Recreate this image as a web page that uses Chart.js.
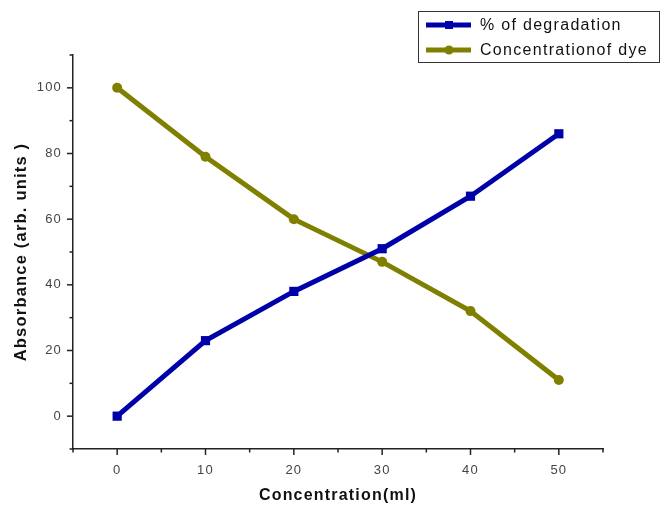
<!DOCTYPE html>
<html><head><meta charset="utf-8">
<script src="https://cdn.jsdelivr.net/npm/chart.js@4.4.0/dist/chart.umd.min.js"></script>
<style>html,body{margin:0;padding:0;background:#fff}#wrap{width:663px;height:509px;position:relative}</style>
</head><body><div id="wrap"><canvas id="c" width="663" height="509"></canvas></div>
<script>
const categories = [0, 10, 20, 30, 40, 50];
const degradation = [0, 23, 38, 51, 67, 86];
const dyeConc = [100, 79, 60, 47, 32, 11];
const xTickValues = [-5, 0, 5, 10, 15, 20, 25, 30, 35, 40, 45, 50, 55];
const xTickLabels = [0, 10, 20, 30, 40, 50];
const yTickValues = [-10, 0, 10, 20, 30, 40, 50, 60, 70, 80, 90, 100, 110];
const yTickLabels = [0, 20, 40, 60, 80, 100];
const seriesNames = ['% of degradation', 'Concentrationof dye'];

const BLUE = '#0000a8', OLIVE = '#808000';
const FONT = '"Liberation Sans", Arial, sans-serif';

const spacingPlugin = {
  id: 'spacing',
  beforeInit(chart) { chart.ctx.letterSpacing = '1.2px'; },
  beforeLayout(chart) { chart.ctx.letterSpacing = '1.2px'; },
  beforeDraw(chart) { chart.ctx.letterSpacing = '1.2px'; }
};

const tickPlugin = {
  id: 'ticksDraw',
  afterDraw(chart) {
    const ctx = chart.ctx, xs = chart.scales.x, ys = chart.scales.y, a = chart.chartArea;
    ctx.save();
    ctx.strokeStyle = '#222'; ctx.lineWidth = 1.5;
    xTickValues.forEach(v => {
      const px = xs.getPixelForValue(v);
      const len = xTickLabels.includes(v) ? 6 : 3.5;
      ctx.beginPath(); ctx.moveTo(px, a.bottom); ctx.lineTo(px, a.bottom + len); ctx.stroke();
    });
    yTickValues.forEach(v => {
      const py = ys.getPixelForValue(v);
      const len = yTickLabels.includes(v) ? 6 : 3.5;
      ctx.beginPath(); ctx.moveTo(a.left, py); ctx.lineTo(a.left - len, py); ctx.stroke();
    });
    // legend
    const bx = 418.5, by = 11.5, bw = 241, bh = 51;
    ctx.strokeStyle = '#333'; ctx.lineWidth = 1;
    ctx.fillStyle = '#fff';
    ctx.fillRect(bx, by, bw, bh);
    ctx.strokeRect(bx, by, bw, bh);
    const rows = [[seriesNames[0], BLUE, 'rect', 25], [seriesNames[1], OLIVE, 'circle', 50]];
    ctx.font = '16px ' + FONT;
    ctx.letterSpacing = '1.3px';
    ctx.textBaseline = 'middle';
    rows.forEach(([t, c, s, y]) => {
      ctx.strokeStyle = c; ctx.lineWidth = 5;
      ctx.beginPath(); ctx.moveTo(426, y); ctx.lineTo(471, y); ctx.stroke();
      ctx.fillStyle = c;
      if (s === 'rect') ctx.fillRect(445, y - 4, 8, 8);
      else { ctx.beginPath(); ctx.arc(449, y, 4.5, 0, Math.PI * 2); ctx.fill(); }
      ctx.fillStyle = '#111';
      ctx.fillText(t, 480, y + 1);
    });
    ctx.restore();
  }
};

new Chart(document.getElementById('c'), {
  type: 'line',
  data: {
    datasets: [
      { label: seriesNames[0], data: categories.map((x, i) => ({ x, y: degradation[i] })),
        borderColor: BLUE, backgroundColor: BLUE, borderWidth: 5, pointStyle: 'rect',
        pointRadius: 6.5, pointBorderWidth: 0, tension: 0 },
      { label: seriesNames[1], data: categories.map((x, i) => ({ x, y: dyeConc[i] })),
        borderColor: OLIVE, backgroundColor: OLIVE, borderWidth: 5, pointStyle: 'circle',
        pointRadius: 5, pointBorderWidth: 0, tension: 0 }
    ]
  },
  options: {
    responsive: false, animation: false,
    layout: { padding: { top: 55, right: 60, left: 0, bottom: 0 } },
    plugins: { legend: { display: false }, tooltip: { enabled: false } },
    scales: {
      x: {
        type: 'linear', min: -5, max: 55,
        afterBuildTicks: s => { s.ticks = xTickValues.map(v => ({ value: v })); },
        afterFit: s => { s.height = 60; },
        grid: { display: false, drawTicks: false },
        border: { display: true, color: '#222', width: 1.5 },
        ticks: { autoSkip: false, maxRotation: 0, padding: 14, color: '#444',
          font: { family: FONT, size: 13 },
          callback: v => xTickLabels.includes(v) ? String(v) : '' },
        title: { display: true, text: 'Concentration(ml)', color: '#111',
          font: { family: FONT, size: 16, weight: 'bold' }, padding: { top: 4, bottom: 4 } }
      },
      y: {
        type: 'linear', min: -10, max: 110,
        afterBuildTicks: s => { s.ticks = yTickValues.map(v => ({ value: v })); },
        afterFit: s => { s.width = 73; },
        grid: { display: false, drawTicks: false },
        border: { display: true, color: '#222', width: 1.5 },
        ticks: { autoSkip: false, padding: 11, color: '#444',
          font: { family: FONT, size: 13 },
          callback: v => yTickLabels.includes(v) ? String(v) : '' },
        title: { display: true, text: 'Absorbance (arb. units )', color: '#111',
          font: { family: FONT, size: 16.5, weight: 'bold' }, padding: { top: 12, bottom: 4 } }
      }
    }
  },
  plugins: [spacingPlugin, tickPlugin]
});
</script></body></html>
